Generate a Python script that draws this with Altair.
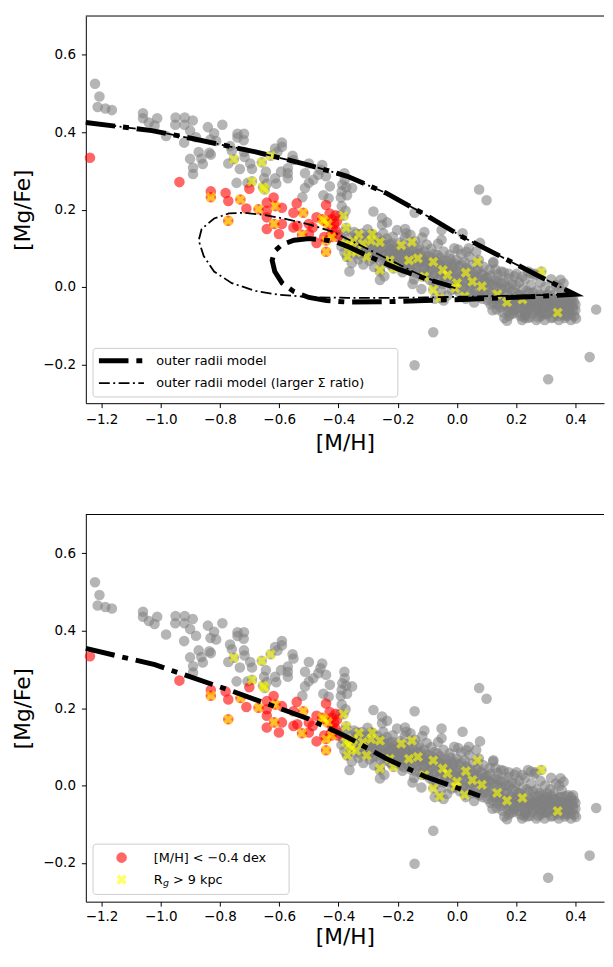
import altair as alt
import pandas as pd

# ---------------- data ----------------
x_ticks = [-1.2, -1.0, -0.8, -0.6, -0.4, -0.2, 0.0, 0.2, 0.4]
y_ticks = [-0.2, 0.0, 0.2, 0.4, 0.6]

# field stars (grey circles), [M/H], [Mg/Fe]
field_upper = [
    [-1.222, 0.525], [-1.207, 0.492], [-1.213, 0.465], [-1.187, 0.461], [-1.165, 0.457],
    [-1.060, 0.449], [-1.060, 0.436], [-1.040, 0.425], [-1.012, 0.436], [-1.021, 0.417], [-0.982, 0.390],
    [-0.950, 0.438], [-0.919, 0.438], [-0.951, 0.419], [-0.920, 0.419], [-0.892, 0.430], [-0.901, 0.404],
    [-0.881, 0.387], [-0.921, 0.373], [-0.841, 0.413], [-0.820, 0.397], [-0.792, 0.419], [-0.832, 0.381],
    [-0.813, 0.377], [-0.872, 0.349], [-0.836, 0.347], [-0.901, 0.331], [-0.891, 0.308], [-0.891, 0.292],
    [-0.858, 0.318], [-0.863, 0.332], [-0.831, 0.342], [-0.741, 0.396], [-0.719, 0.396], [-0.741, 0.386],
    [-0.720, 0.379], [-0.766, 0.364], [-0.760, 0.352], [-0.719, 0.349], [-0.772, 0.319], [-0.733, 0.305],
    [-0.698, 0.319], [-0.717, 0.336], [-0.692, 0.305], [-0.744, 0.269], [-0.707, 0.269], [-0.651, 0.281],
    [-0.645, 0.298], [-0.614, 0.281], [-0.610, 0.267], [-0.642, 0.267], [-0.614, 0.358],
    [-0.591, 0.373], [-0.591, 0.362], [-0.606, 0.349], [-0.571, 0.307], [-0.571, 0.281], [-0.571, 0.294],
    [-0.594, 0.298], [-0.555, 0.339], [-0.552, 0.328], [-0.500, 0.319], [-0.513, 0.294], [-0.513, 0.256],
    [-0.500, 0.269], [-0.485, 0.277], [-0.468, 0.290], [-0.455, 0.315], [-0.461, 0.303], [-0.442, 0.286],
    [-0.429, 0.260], [-0.451, 0.237], [-0.433, 0.229], [-0.380, 0.294], [-0.379, 0.277], [-0.387, 0.264],
    [-0.374, 0.258], [-0.354, 0.256], [-0.389, 0.247], [-0.371, 0.237], [-0.392, 0.231], [-0.389, 0.209],
    [-0.376, 0.197], [-0.396, 0.184], [-0.522, 0.232],
]
field_scatter = [
    [-0.282, 0.195], [-0.253, 0.178], [-0.236, 0.167], [-0.253, 0.161], [-0.363, 0.040], [-0.341, 0.137],
    [-0.311, 0.125], [-0.292, 0.137], [-0.175, 0.150], [-0.171, 0.139], [-0.143, 0.192], [-0.110, 0.142],
    [-0.052, 0.147], [-0.052, 0.122], [0.019, 0.139], [0.078, 0.114], [0.075, 0.252], [0.100, 0.224],
    [0.004, 0.097], [0.032, 0.091], [0.123, 0.065], [0.149, 0.040], [0.175, 0.034], [0.201, 0.034],
    [0.221, 0.027], [0.250, 0.036], [0.350, 0.019], [0.470, -0.058], [0.448, -0.181], [0.308, -0.238],
    [-0.143, -0.202], [-0.080, -0.117], [0.402, -0.081], [0.370, -0.075], [0.169, -0.087], [0.227, -0.079],
]
field_band = [
    [-0.395, 0.135], [-0.39, 0.105], [-0.385, 0.12], [-0.38, 0.09], [-0.375, 0.145], [-0.372, 0.078],
    [-0.368, 0.112], [-0.362, 0.128], [-0.358, 0.095], [-0.355, 0.062], [-0.35, 0.118], [-0.347, 0.142],
    [-0.343, 0.085], [-0.34, 0.104], [-0.336, 0.13], [-0.332, 0.072], [-0.328, 0.115], [-0.325, 0.094],
    [-0.32, 0.138], [-0.316, 0.058], [-0.312, 0.107], [-0.308, 0.125], [-0.305, 0.083], [-0.302, 0.149],
    [-0.298, 0.1], [-0.295, 0.068], [-0.291, 0.121], [-0.287, 0.088], [-0.284, 0.135], [-0.28, 0.052],
    [-0.276, 0.11], [-0.272, 0.076], [-0.268, 0.128], [-0.264, 0.095], [-0.26, 0.04], [-0.257, 0.115],
    [-0.253, 0.082], [-0.249, 0.139], [-0.245, 0.063], [-0.241, 0.101], [-0.237, 0.125], [-0.233, 0.072],
    [-0.229, 0.092], [-0.225, 0.11], [-0.221, 0.055], [-0.217, 0.13], [-0.213, 0.085], [-0.209, 0.104],
    [-0.205, 0.068], [-0.202, 0.147], [-0.26, 0.018], [-0.245, 0.028],
    [-0.198, 0.09], [-0.195, 0.06], [-0.191, 0.115], [-0.187, 0.075], [-0.184, 0.038], [-0.18, 0.1],
    [-0.176, 0.128], [-0.172, 0.065], [-0.168, 0.087], [-0.164, 0.108], [-0.16, 0.048], [-0.157, 0.135],
    [-0.153, 0.078], [-0.149, 0.095], [-0.145, 0.02], [-0.141, 0.118], [-0.137, 0.06], [-0.133, 0.085],
    [-0.129, 0.104], [-0.125, 0.035], [-0.121, 0.072], [-0.117, 0.128], [-0.113, 0.05], [-0.109, 0.092],
    [-0.105, 0.066], [-0.102, 0.11], [-0.15, 0.008], [-0.12, -0.005],
    [-0.098, 0.04], [-0.095, 0.078], [-0.091, 0.018], [-0.087, 0.099], [-0.084, 0.058], [-0.08, 0.028],
    [-0.076, 0.086], [-0.072, 0.005], [-0.068, 0.065], [-0.064, 0.112], [-0.06, 0.038], [-0.057, 0.075],
    [-0.053, -0.01], [-0.049, 0.052], [-0.045, 0.092], [-0.041, 0.022], [-0.037, 0.068], [-0.033, -0.022],
    [-0.029, 0.045], [-0.025, 0.083], [-0.021, 0.01], [-0.017, 0.058], [-0.013, 0.032], [-0.009, 0.1],
    [-0.005, -0.005], [-0.002, 0.07], [-0.075, -0.03], [-0.045, -0.035],
    [0.002, 0.02], [0.006, 0.055], [0.01, -0.015], [0.014, 0.085], [0.018, 0.035], [0.022, 0.0],
    [0.026, 0.065], [0.03, -0.03], [0.034, 0.045], [0.038, 0.012], [0.042, 0.078], [0.046, -0.008],
    [0.05, 0.028], [0.054, 0.058], [0.058, -0.04], [0.062, 0.018], [0.066, 0.042], [0.07, -0.02],
    [0.074, 0.07], [0.078, 0.005], [0.082, 0.035], [0.086, -0.03], [0.09, 0.052], [0.094, 0.012],
    [0.098, -0.01], [0.04, 0.1], [0.065, 0.092],
    [0.102, 0.025], [0.106, -0.02], [0.11, 0.045], [0.114, -0.045], [0.118, 0.005], [0.122, 0.062],
    [0.126, -0.03], [0.13, 0.018], [0.134, -0.058], [0.138, 0.032], [0.142, -0.01], [0.146, -0.04],
    [0.15, 0.01], [0.154, -0.065], [0.158, 0.038], [0.162, -0.022], [0.166, 0.0], [0.17, -0.05],
    [0.174, 0.022], [0.178, -0.035], [0.182, -0.07], [0.186, 0.008], [0.19, -0.045], [0.194, 0.028],
    [0.198, -0.015], [0.13, 0.045], [0.175, -0.075],
    [0.202, -0.055], [0.206, -0.02], [0.21, 0.012], [0.214, -0.075], [0.218, -0.035], [0.222, -0.005],
    [0.226, -0.06], [0.23, 0.02], [0.234, -0.045], [0.238, -0.08], [0.242, -0.015], [0.246, -0.052],
    [0.25, 0.005], [0.254, -0.068], [0.258, -0.03], [0.262, 0.03], [0.266, -0.058], [0.27, -0.01],
    [0.274, -0.078], [0.278, -0.04], [0.282, 0.012], [0.286, -0.065], [0.29, -0.025], [0.294, -0.05],
    [0.298, 0.0], [0.24, 0.04], [0.265, 0.034],
    [0.302, -0.07], [0.306, -0.035], [0.31, -0.055], [0.314, -0.01], [0.318, -0.08], [0.322, -0.045],
    [0.326, -0.02], [0.33, -0.065], [0.334, 0.005], [0.338, -0.05], [0.342, -0.075], [0.346, -0.03],
    [0.35, -0.06], [0.354, -0.012], [0.358, -0.045], [0.362, -0.072], [0.366, -0.028], [0.37, -0.055],
    [0.375, -0.04], [0.38, -0.065], [0.385, -0.03], [0.39, -0.05], [0.395, -0.038], [0.4, -0.06],
    [0.318, 0.02], [0.345, 0.0], [0.36, 0.01],
    [0.12, -0.06], [0.16, -0.08], [0.19, -0.06], [0.21, -0.045], [0.23, -0.07], [0.25, -0.04],
    [0.27, -0.05], [0.29, -0.07], [0.31, -0.045], [0.33, -0.035], [0.35, -0.045], [0.37, -0.07],
    [0.14, -0.03], [0.2, -0.03], [0.28, -0.02], [0.3, -0.03],
]
field_core = [
    [-0.348, 0.098], [-0.344, 0.121], [-0.338, 0.112], [-0.333, 0.097], [-0.327, 0.128], [-0.322, 0.081],
    [-0.318, 0.099], [-0.313, 0.118], [-0.307, 0.092], [-0.303, 0.111], [-0.297, 0.083], [-0.293, 0.105],
    [-0.288, 0.122], [-0.283, 0.074], [-0.278, 0.096], [-0.273, 0.117], [-0.269, 0.087], [-0.263, 0.108],
    [-0.258, 0.068], [-0.254, 0.098], [-0.248, 0.118], [-0.244, 0.083], [-0.239, 0.071], [-0.235, 0.107],
    [-0.231, 0.088], [-0.226, 0.061], [-0.222, 0.097], [-0.218, 0.113], [-0.214, 0.074], [-0.21, 0.093],
    [-0.206, 0.059], [-0.203, 0.081],
    [-0.199, 0.074], [-0.194, 0.097], [-0.19, 0.052], [-0.186, 0.084], [-0.182, 0.066], [-0.178, 0.047],
    [-0.174, 0.09], [-0.17, 0.077], [-0.166, 0.055], [-0.162, 0.094], [-0.158, 0.067], [-0.154, 0.041],
    [-0.15, 0.083], [-0.146, 0.058], [-0.142, 0.072], [-0.138, 0.036], [-0.134, 0.098], [-0.13, 0.051],
    [-0.126, 0.064], [-0.122, 0.087], [-0.118, 0.028], [-0.114, 0.071], [-0.11, 0.047], [-0.106, 0.081],
    [-0.1, 0.057], [-0.096, 0.032], [-0.092, 0.064], [-0.088, 0.045], [-0.083, 0.074], [-0.079, 0.012],
    [-0.074, 0.052], [-0.07, 0.036], [-0.066, 0.083], [-0.062, 0.021], [-0.058, 0.058], [-0.054, 0.031],
    [-0.05, 0.067], [-0.046, 0.008], [-0.042, 0.043], [-0.038, 0.026], [-0.034, 0.056], [-0.03, 0.015],
    [-0.026, 0.037], [-0.022, 0.072], [-0.018, -0.008], [-0.014, 0.048], [-0.01, 0.022], [-0.006, 0.061],
    [-0.003, 0.035],
    [0.004, 0.04], [0.008, 0.008], [0.012, 0.025], [0.016, 0.058], [0.02, -0.005], [0.024, 0.03],
    [0.028, 0.012], [0.032, 0.05], [0.036, -0.012], [0.04, 0.022], [0.044, 0.04], [0.048, 0.005],
    [0.052, -0.02], [0.056, 0.032], [0.06, 0.008], [0.064, -0.01], [0.068, 0.025], [0.072, 0.048],
    [0.076, -0.025], [0.08, 0.015], [0.084, -0.005], [0.088, 0.03], [0.092, -0.018], [0.096, 0.022],
    [0.1, 0.0], [0.104, -0.035], [0.108, 0.012], [0.112, 0.03], [0.116, -0.015], [0.12, -0.038],
    [0.124, 0.008], [0.128, -0.022], [0.132, 0.0], [0.136, -0.045], [0.14, 0.015], [0.144, -0.025],
    [0.148, -0.052], [0.152, -0.005], [0.156, -0.032], [0.16, 0.012], [0.164, -0.045], [0.168, -0.015],
    [0.172, -0.062], [0.176, -0.002], [0.18, -0.028], [0.184, -0.048], [0.188, -0.01], [0.192, -0.068],
    [0.196, -0.035], [0.199, 0.005],
    [0.204, -0.04], [0.208, -0.065], [0.212, -0.02], [0.216, -0.052], [0.22, -0.085], [0.224, -0.03],
    [0.228, -0.045], [0.232, -0.072], [0.236, -0.01], [0.24, -0.058], [0.244, -0.035], [0.248, -0.078],
    [0.252, -0.048], [0.256, -0.015], [0.26, -0.062], [0.264, -0.04], [0.268, -0.085], [0.272, -0.028],
    [0.276, -0.06], [0.28, -0.045], [0.284, -0.075], [0.288, -0.035], [0.292, -0.058], [0.296, -0.085],
    [0.3, -0.048], [0.304, -0.02], [0.308, -0.068], [0.312, -0.04], [0.316, -0.062], [0.32, -0.028],
    [0.324, -0.078], [0.328, -0.05], [0.332, -0.035], [0.336, -0.07], [0.34, -0.055], [0.344, -0.085],
    [0.348, -0.04], [0.352, -0.068], [0.356, -0.03], [0.36, -0.055], [0.364, -0.08], [0.368, -0.045],
    [0.372, -0.062], [0.376, -0.025], [0.38, -0.048], [0.384, -0.072], [0.388, -0.04], [0.392, -0.06],
    [0.396, -0.075], [0.4, -0.045], [0.392, -0.025], [0.385, -0.085],
]
# outer-disc stars (R_g > 9 kpc) that are not metal poor: grey circle + yellow X
outer_stars = [
    [-0.753, 0.330], [-0.659, 0.322], [-0.629, 0.339], [-0.692, 0.273], [-0.655, 0.258], [-0.649, 0.252],
    [-0.383, 0.184], [-0.374, 0.153], [-0.376, 0.112], [-0.357, 0.097], [-0.370, 0.078], [-0.331, 0.136],
    [-0.318, 0.112], [-0.305, 0.078], [-0.286, 0.137], [-0.290, 0.120], [-0.260, 0.116], [-0.227, 0.069],
    [-0.260, 0.044], [-0.214, 0.048], [-0.188, 0.108], [-0.152, 0.116], [-0.162, 0.069], [-0.132, 0.074],
    [-0.110, 0.027], [-0.080, 0.065], [-0.048, 0.044], [-0.032, 0.031], [-0.080, -0.007], [-0.058, -0.028],
    [0.000, 0.010], [0.030, 0.037], [0.052, 0.014], [0.084, 0.002], [0.069, 0.065], [0.026, -0.024],
    [0.136, -0.019], [0.169, -0.039], [0.221, -0.032], [0.285, 0.040], [0.340, -0.066], [-0.006, -0.003],
    [-0.365, 0.105], [-0.350, 0.118], [-0.340, 0.090],
]
# metal-poor stars ([M/H] < -0.4 dex): red circles
poor_stars = [
    [-1.239, 0.334], [-0.937, 0.271], [-0.831, 0.247], [-0.781, 0.243], [-0.772, 0.222], [-0.701, 0.254],
    [-0.711, 0.203], [-0.642, 0.218], [-0.619, 0.231], [-0.642, 0.197], [-0.642, 0.180], [-0.642, 0.150],
    [-0.601, 0.137], [-0.591, 0.205], [-0.591, 0.163], [-0.541, 0.216], [-0.552, 0.192], [-0.539, 0.158],
    [-0.500, 0.163], [-0.500, 0.137], [-0.474, 0.180], [-0.474, 0.114], [-0.442, 0.212], [-0.423, 0.175],
    [-0.415, 0.163], [-0.409, 0.146], [-0.402, 0.129], [-0.448, 0.129], [-0.487, 0.154], [-0.552, 0.154],
    [-0.430, 0.190], [-0.410, 0.185], [-0.405, 0.170], [-0.420, 0.150], [-0.425, 0.135],
]
# metal-poor AND outer: red circle + yellow X
poor_outer_stars = [
    [-0.831, 0.232], [-0.731, 0.226], [-0.772, 0.171], [-0.670, 0.201], [-0.613, 0.209], [-0.617, 0.163],
    [-0.519, 0.192], [-0.523, 0.135], [-0.448, 0.171], [-0.442, 0.120], [-0.442, 0.091], [-0.436, 0.163],
    [-0.455, 0.175], [-0.423, 0.129],
]

# chemical-evolution model tracks (ordered along the track)
model_outer_mh = [-1.253, -1.03, -0.89, -0.68, -0.5, -0.37, -0.24, -0.11, 0.02, 0.15, 0.28, 0.398,
                  0.28, 0.15, 0.02, -0.11, -0.24, -0.37, -0.44, -0.5, -0.55, -0.59, -0.615, -0.624,
                  -0.615, -0.59, -0.55, -0.5, -0.45, -0.41, -0.37, -0.3, -0.2, -0.1, -0.02]
model_outer_mgfe = [0.425, 0.404, 0.383, 0.349, 0.315, 0.286, 0.243, 0.188, 0.129, 0.078, 0.027, -0.019,
                    -0.024, -0.028, -0.032, -0.035, -0.038, -0.039, -0.035, -0.027, -0.012, 0.01, 0.04, 0.069,
                    0.093, 0.11, 0.121, 0.125, 0.122, 0.117, 0.105, 0.08, 0.047, 0.02, 0.002]
model_sigma_mh = [-1.253, -1.03, -0.89, -0.68, -0.5, -0.37, -0.24, -0.11, 0.02, 0.15, 0.28, 0.398,
                  0.28, 0.15, 0.02, -0.11, -0.24, -0.37, -0.5, -0.6, -0.68, -0.76, -0.82, -0.855,
                  -0.872, -0.862, -0.82, -0.77, -0.72, -0.65, -0.58, -0.5, -0.42, -0.34, -0.24, -0.14,
                  -0.06, -0.005]
model_sigma_mgfe = [0.425, 0.404, 0.383, 0.349, 0.315, 0.286, 0.243, 0.188, 0.129, 0.078, 0.027, -0.019,
                    -0.021, -0.023, -0.025, -0.027, -0.028, -0.028, -0.026, -0.02, -0.01, 0.01, 0.04, 0.08,
                    0.12, 0.15, 0.177, 0.19, 0.192, 0.186, 0.176, 0.162, 0.143, 0.113, 0.075, 0.037,
                    0.01, -0.003]
model_lower_mh = [-1.253, -1.02, -0.76, -0.5, -0.37, -0.24, -0.11, 0.078]
model_lower_mgfe = [0.354, 0.312, 0.244, 0.172, 0.125, 0.070, 0.024, -0.027]

# ---------------- tables ----------------
def stars(pairs):
    return pd.DataFrame(pairs, columns=["mh", "mgfe"])

def track(mh, mg):
    return pd.DataFrame({"mh": mh, "mgfe": mg, "i": list(range(len(mh)))})

grey_df = stars(field_upper + field_scatter + field_band + field_core + outer_stars)
red_df = stars(poor_stars + poor_outer_stars)
yellow_df = stars(outer_stars + poor_outer_stars)
one = pd.DataFrame({"k": [0]})

W, H = 526, 393
FONT = "DejaVu Sans"
X_PATH = "M-1,-0.5L-0.5,-1L0,-0.5L0.5,-1L1,-0.5L0.5,0L1,0.5L0.5,1L0,0.5L-0.5,1L-1,0.5L-0.5,0Z"
THICK_DASH = [30, 8, 6, 8]
THIN_DASH = [11, 3.5, 2, 3.5]
DOT = 115
XSIZE = 110

xs = alt.Scale(domain=[-1.253, 0.4965], nice=False, zero=False)
ys = alt.Scale(domain=[-0.3, 0.7], nice=False, zero=False)
yaxis = alt.Axis(values=y_ticks, format=".1f", title="[Mg/Fe]")


def make_xaxis(lp, tp):
    return alt.Axis(values=x_ticks, format=".1f", title="[M/H]", labelPadding=lp, titlePadding=tp)


def scatter_layers(xaxis):
    X = alt.X("mh:Q", scale=xs, axis=xaxis)
    Y = alt.Y("mgfe:Q", scale=ys, axis=yaxis)
    grey = alt.Chart(grey_df).mark_circle(size=DOT, color="gray", opacity=0.58).encode(x=X, y=Y)
    red = alt.Chart(red_df).mark_circle(size=DOT, color="red", opacity=0.6).encode(x=X, y=Y)
    yel = alt.Chart(yellow_df).mark_point(shape=X_PATH, filled=True, size=XSIZE, color="yellow",
                                          opacity=0.6, strokeWidth=0).encode(x=X, y=Y)
    return [grey, red, yel]


def model_line(df, dash, width, xaxis):
    return alt.Chart(df).mark_line(color="black", strokeDash=dash, strokeWidth=width,
                                   strokeCap="butt").encode(
        x=alt.X("mh:Q", scale=xs, axis=xaxis), y=alt.Y("mgfe:Q", scale=ys, axis=yaxis), order="i:Q")


def spine_top():
    return alt.Chart(one).mark_rule(color="black", strokeWidth=1).encode(
        x=alt.value(0), x2=alt.value(W), y=alt.value(0))


def legend_box(x0, x1, y0, y1):
    return alt.Chart(one).mark_rect(fill="white", fillOpacity=0.8, stroke="#cccccc", strokeWidth=1,
                                    cornerRadius=3).encode(
        x=alt.value(x0), x2=alt.value(x1), y=alt.value(y0), y2=alt.value(y1))


def label(txt, x, y, size=13, style="normal"):
    return alt.Chart(one).mark_text(text=txt, align="left", baseline="middle", font=FONT,
                                    fontSize=size, fontStyle=style, color="black").encode(
        x=alt.value(x), y=alt.value(y))


# ---------------- top panel ----------------
top_xaxis = make_xaxis(5, 7)
top_legend = [
    legend_box(7.3, 316.7, 337.4, 386.7),
    alt.Chart(one).mark_rule(color="black", strokeWidth=5, strokeDash=THICK_DASH, strokeCap="butt").encode(
        x=alt.value(13.3), x2=alt.value(59), y=alt.value(350)),
    alt.Chart(one).mark_rule(color="black", strokeWidth=1.8, strokeDash=THIN_DASH, strokeCap="butt").encode(
        x=alt.value(13.3), x2=alt.value(59), y=alt.value(372.7)),
    label("outer radii model", 71.5, 350),
    label("outer radii model (larger \u03a3 ratio)", 71.5, 372.7),
]
top = alt.layer(
    *scatter_layers(top_xaxis),
    model_line(track(model_outer_mh, model_outer_mgfe), THICK_DASH, 5, top_xaxis),
    model_line(track(model_sigma_mh, model_sigma_mgfe), THIN_DASH, 1.8, top_xaxis),
    spine_top(),
    *top_legend,
).properties(width=W, height=H)

# ---------------- bottom panel ----------------
bot_xaxis = make_xaxis(4, 3)
bottom_legend = [
    legend_box(7.3, 206.3, 334.6, 385.6),
    alt.Chart(one).mark_circle(size=DOT, color="red", opacity=0.6).encode(
        x=alt.value(36.3), y=alt.value(348.3)),
    alt.Chart(one).mark_point(shape=X_PATH, filled=True, size=XSIZE, color="yellow", opacity=0.6,
                              strokeWidth=0).encode(x=alt.value(36.3), y=alt.value(370.6)),
    label("[M/H] < \u22120.4 dex", 69, 348.3),
    label("R", 69, 370.6),
    label("g", 78.3, 374.5, size=9.5, style="italic"),
    label("> 9 kpc", 88.5, 370.6),
]
bottom = alt.layer(
    *scatter_layers(bot_xaxis),
    model_line(track(model_lower_mh, model_lower_mgfe), THICK_DASH, 5, bot_xaxis),
    spine_top(),
    *bottom_legend,
).properties(width=W, height=H)

chart = alt.vconcat(top, bottom, spacing=60).properties(
    padding={"left": 4, "top": 0, "right": 0, "bottom": 0},
).configure(
    background="white",
).configure_view(stroke=None).configure_axis(
    grid=False,
    labelFont=FONT, labelFontSize=13.7, labelColor="black",
    titleFont=FONT, titleFontSize=22, titleFontWeight="normal", titleColor="black",
    domainColor="black", domainWidth=1, tickColor="black", tickWidth=1, tickSize=4.5,
    labelFlush=False, labelOverlap=False,
).configure_axisY(labelPadding=6, titlePadding=8)

chart.save("out.html", embed_options={"renderer": "svg", "actions": False})
